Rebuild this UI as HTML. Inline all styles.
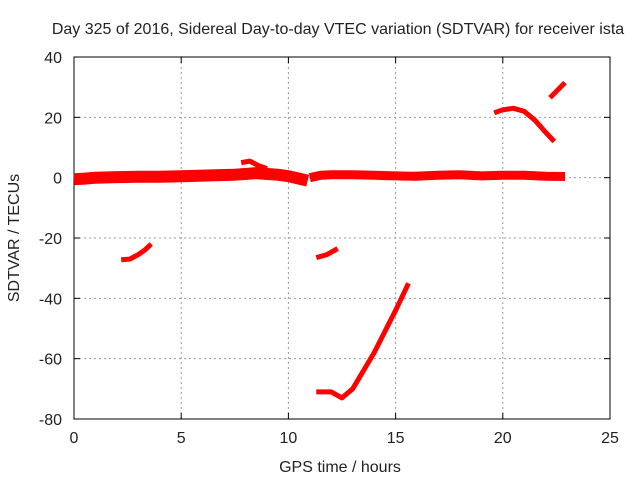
<!DOCTYPE html>
<html><head><meta charset="utf-8"><style>body{margin:0;background:#fff}svg{display:block}text{font-family:"Liberation Sans",sans-serif;font-size:16px;fill:#222}</style></head>
<body>
<svg id="c" width="640" height="480"></svg>
<script>
const xTicks=[0,5,10,15,20,25];
const yTicks=[40,20,0,-20,-40,-60,-80];
const segHours=[
 [0,0.5,1,2,3,4,5,6,7,7.5,8,8.5,9,9.5,10,10.5,10.9],
 [7.8,8.2,8.6,9],
 [11,11.5,12,13,14,15,15.8,16],
 [15.9,17,18,19,20,21,22,22.9],
 [2.2,2.6,3,3.3,3.6],
 [11.3,11.8,12.3],
 [11.3,12,12.5,13,14,15,15.6],
 [19.6,20,20.5,21,21.5,22,22.4],
 [22.2,22.9]
];
const segValues=[
 [-0.5,-0.3,0,0.2,0.3,0.3,0.5,0.7,0.9,1,1.2,1.5,1.2,1,0.5,-0.3,-1],
 [5,5.5,4,3],
 [0,0.8,1,1,0.8,0.6,0.5,0.5],
 [0.5,0.8,1,0.6,0.8,0.8,0.5,0.4],
 [-27.2,-27,-25.5,-24,-22],
 [-26.5,-25.5,-23.5],
 [-71,-71,-73,-70,-58,-44,-35],
 [21.5,22.5,23,22,19,15,12],
 [26.5,31.5]
];
const segWidths=[12,5,9,9,5,5,5,5,5];
const L=74,R=610,T=57,B=419;
const X=h=>L+(h-0)/25*(R-L);
const Y=v=>T+(40-v)/120*(B-T);
const s=document.getElementById('c');
const NS='http://www.w3.org/2000/svg';
function mk(t,a){const e=document.createElementNS(NS,t);for(const k in a)e.setAttribute(k,a[k]);s.appendChild(e);return e;}
xTicks.forEach(t=>{
 if(t>0&&t<25){const g=mk('line',{x1:X(t),x2:X(t),y1:T,y2:B,stroke:'#999','stroke-dasharray':'2,3'});
 
 }
 const tx=mk('text',{x:X(t),y:B+24,'text-anchor':'middle'});tx.textContent=t;
 
 
 mk('line',{x1:X(t),x2:X(t),y1:B,y2:B-6,stroke:'#000'});mk('line',{x1:X(t),x2:X(t),y1:T,y2:T+6,stroke:'#000'});
});
yTicks.forEach(t=>{
 if(t<40&&t>-80){const g=mk('line',{x1:L,x2:R,y1:Y(t),y2:Y(t),stroke:'#999','stroke-dasharray':'2,3'});
 
 }
 const tx=mk('text',{x:L-12,y:Y(t)+6,'text-anchor':'end'});tx.textContent=t;
 
 
 mk('line',{x1:L,x2:L+6,y1:Y(t),y2:Y(t),stroke:'#000'});mk('line',{x1:R,x2:R-6,y1:Y(t),y2:Y(t),stroke:'#000'});
});
const fr=mk('rect',{x:L,y:T,width:R-L,height:B-T,fill:'none',stroke:'#000'});


segHours.forEach((hs,i)=>{
 const p=hs.map((h,j)=>X(h).toFixed(1)+','+Y(segValues[i][j]).toFixed(1)).join(' ');
 const pl=mk('polyline',{points:p,fill:'none',stroke:'#f00','stroke-width':segWidths[i],'stroke-linejoin':'round'});
 
 
});
const ti=mk('text',{x:338,y:34,'text-anchor':'middle'});ti.textContent='Day 325 of 2016, Sidereal Day-to-day VTEC variation (SDTVAR) for receiver ista';


const xl=mk('text',{x:340,y:472,'text-anchor':'middle'});xl.textContent='GPS time / hours';


const yl=mk('text',{x:0,y:0,'text-anchor':'middle',transform:'translate(19,238) rotate(-90)'});yl.textContent='SDTVAR / TECUs';


</script>
</body></html>
